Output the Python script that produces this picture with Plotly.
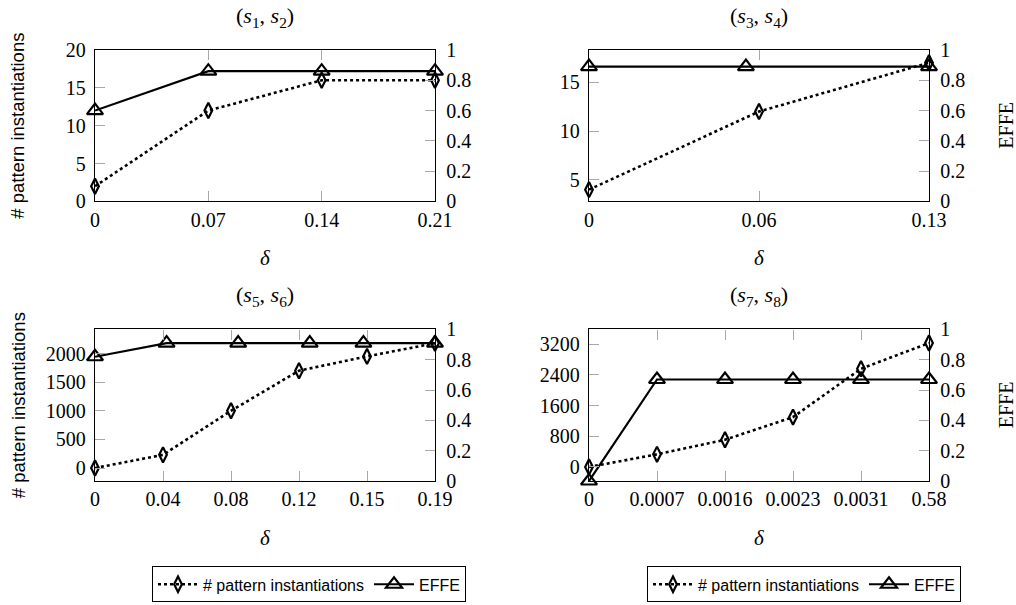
import plotly.graph_objects as go

# ---------------- data ----------------
titles = ["(<i>s</i><sub>1</sub>, <i>s</i><sub>2</sub>)",
          "(<i>s</i><sub>3</sub>, <i>s</i><sub>4</sub>)",
          "(<i>s</i><sub>5</sub>, <i>s</i><sub>6</sub>)",
          "(<i>s</i><sub>7</sub>, <i>s</i><sub>8</sub>)"]

delta_labels_12 = ["0", "0.07", "0.14", "0.21"]
pattern_12 = [2, 12, 16, 16]
effe_12 = [0.6, 0.86, 0.86, 0.86]
effe_delta_12 = [0, 0.07, 0.14, 0.21]

delta_labels_34 = ["0", "0.06", "0.13"]
pattern_34 = [4, 12, 17]
effe_34 = [0.89, 0.89, 0.89]
effe_delta_34 = [0, 0.06, 0.13]

delta_labels_56 = ["0", "0.04", "0.08", "0.12", "0.15", "0.19"]
pattern_56 = [0, 230, 1000, 1700, 1950, 2180]
effe_56 = [0.82, 0.91, 0.91, 0.91, 0.91, 0.91]
effe_delta_56 = [0, 0.04, 0.08, 0.12, 0.15, 0.19]

delta_labels_78 = ["0", "0.0007", "0.0016", "0.0023", "0.0031", "0.58"]
pattern_78 = [0, 330, 710, 1300, 2560, 3230]
effe_78 = [0, 0.67, 0.67, 0.67, 0.67, 0.67]
effe_delta_78 = None  # EFFE drawn at the evenly spaced tick positions

left_ranges = [[0, 20], [2.8, 18.3], [-227, 2420], [-365, 3583]]
left_ticks = [[0, 5, 10, 15, 20], [5, 10, 15],
              [0, 500, 1000, 1500, 2000], [0, 800, 1600, 2400, 3200]]
right_ticks = [0, 0.2, 0.4, 0.6, 0.8, 1]
right_ticklabels = ["0", "0.2", "0.4", "0.6", "0.8", "1"]

panels = [
    (delta_labels_12, pattern_12, effe_12, effe_delta_12),
    (delta_labels_34, pattern_34, effe_34, effe_delta_34),
    (delta_labels_56, pattern_56, effe_56, effe_delta_56),
    (delta_labels_78, pattern_78, effe_78, effe_delta_78),
]

# ---------------- layout geometry (pixels) ----------------
W, H = 1016, 605
boxes = [(95, 435, 50, 201.3), (589, 929, 50, 201.3),
         (95, 435, 329.3, 480.7), (589, 929, 329.3, 480.7)]
L, T = 95, 50
R = W - 929
B = H - 480.7
PW, PH = W - L - R, H - T - B


def px2x(x):
    return (x - L) / PW


def px2y(y):
    return (H - B - y) / PH


SERIF = "Liberation Serif"
SANS = "Liberation Sans"
GRAY = "#a8a8a8"

fig = go.Figure()
layout = {}
annotations = []


def note(text, x, y, font, angle=0):
    annotations.append(dict(text=text, x=px2x(x), y=px2y(y), xref="paper",
                            yref="paper", xanchor="center", yanchor="middle",
                            showarrow=False, textangle=angle, font=font))


for k, (labels, pattern, effe, edelta) in enumerate(panels):
    n = len(labels)
    idx = list(range(n))
    if edelta is None:
        xs_effe = idx
    else:
        dmax = edelta[-1]
        xs_effe = [d / dmax * (n - 1) for d in edelta]
    xa = "x" if k == 0 else f"x{k + 1}"
    yl = "y" if k == 0 else f"y{2 * k + 1}"
    yr = f"y{2 * k + 2}"
    legend_name = "legend" if k == 2 else "legend2"
    show = k >= 2

    fig.add_trace(go.Scatter(
        x=idx, y=pattern, xaxis=xa, yaxis=yl, mode="lines+markers",
        name="# pattern instantiations", showlegend=show, legend=legend_name,
        line=dict(color="black", width=2.6, dash="dot"),
        marker=dict(symbol="diamond-tall-open", size=11, color="black",
                    line=dict(width=2.2, color="black")),
        cliponaxis=False))
    fig.add_trace(go.Scatter(
        x=xs_effe, y=effe, xaxis=xa, yaxis=yr, mode="lines+markers",
        name="EFFE", showlegend=show, legend=legend_name,
        line=dict(color="black", width=2.2),
        marker=dict(symbol="triangle-up-open", size=14, color="black",
                    line=dict(width=2.2, color="black")),
        cliponaxis=False))

    x0, x1, y0, y1 = boxes[k]
    xdom = [px2x(x0), px2x(x1)]
    ydom = [px2y(y1), px2y(y0)]
    xkey = "xaxis" if k == 0 else f"xaxis{k + 1}"
    ylkey = "yaxis" if k == 0 else f"yaxis{2 * k + 1}"
    yrkey = f"yaxis{2 * k + 2}"
    common = dict(ticks="inside", ticklen=10, tickcolor=GRAY, tickwidth=1,
                  showline=True, linecolor="black", linewidth=1.3,
                  showgrid=False, zeroline=False,
                  tickfont=dict(family=SERIF, size=20, color="black"))
    layout[xkey] = dict(domain=xdom, anchor=yl, range=[0, n - 1],
                        tickvals=idx, ticktext=labels, mirror="ticks",
                        ticklabelstandoff=0, **common)
    layout[ylkey] = dict(domain=ydom, anchor=xa, range=left_ranges[k],
                         tickvals=left_ticks[k], ticklabelstandoff=4, **common)
    layout[yrkey] = dict(overlaying=yl, side="right", anchor=xa, range=[0, 1],
                         tickvals=right_ticks, ticktext=right_ticklabels,
                         ticklabelstandoff=6, **common)

    cx = (x0 + x1) / 2
    cy = (y0 + y1) / 2
    note(titles[k], cx, y0 - 33, dict(family=SERIF, size=22, color="black"))
    note("<i>δ</i>", cx, y1 + 57, dict(family=SERIF, size=21, color="black"))
    if k % 2 == 0:
        note("# pattern instantiations", 18, cy,
             dict(family=SANS, size=18.5, color="black"), angle=-90)
    else:
        note("EFFE", 1006, cy, dict(family=SERIF, size=20, color="black"),
             angle=-90)

leg_common = dict(orientation="h", xanchor="left", yanchor="top",
                  bordercolor="black", borderwidth=1, bgcolor="white",
                  font=dict(family=SANS, size=16, color="black"),
                  itemwidth=40, tracegroupgap=0)
layout["legend"] = dict(x=px2x(152), y=px2y(566), **leg_common)
layout["legend2"] = dict(x=px2x(647), y=px2y(566), **leg_common)

fig.update_layout(width=W, height=H,
                  margin=dict(l=L, r=R, t=T, b=B, autoexpand=False),
                  plot_bgcolor="white", paper_bgcolor="white",
                  annotations=annotations, **layout)

fig.write_html("out.html", config={"displayModeBar": False},
               post_script="document.body.style.margin='0';"
                           "document.body.style.overflow='hidden';")
